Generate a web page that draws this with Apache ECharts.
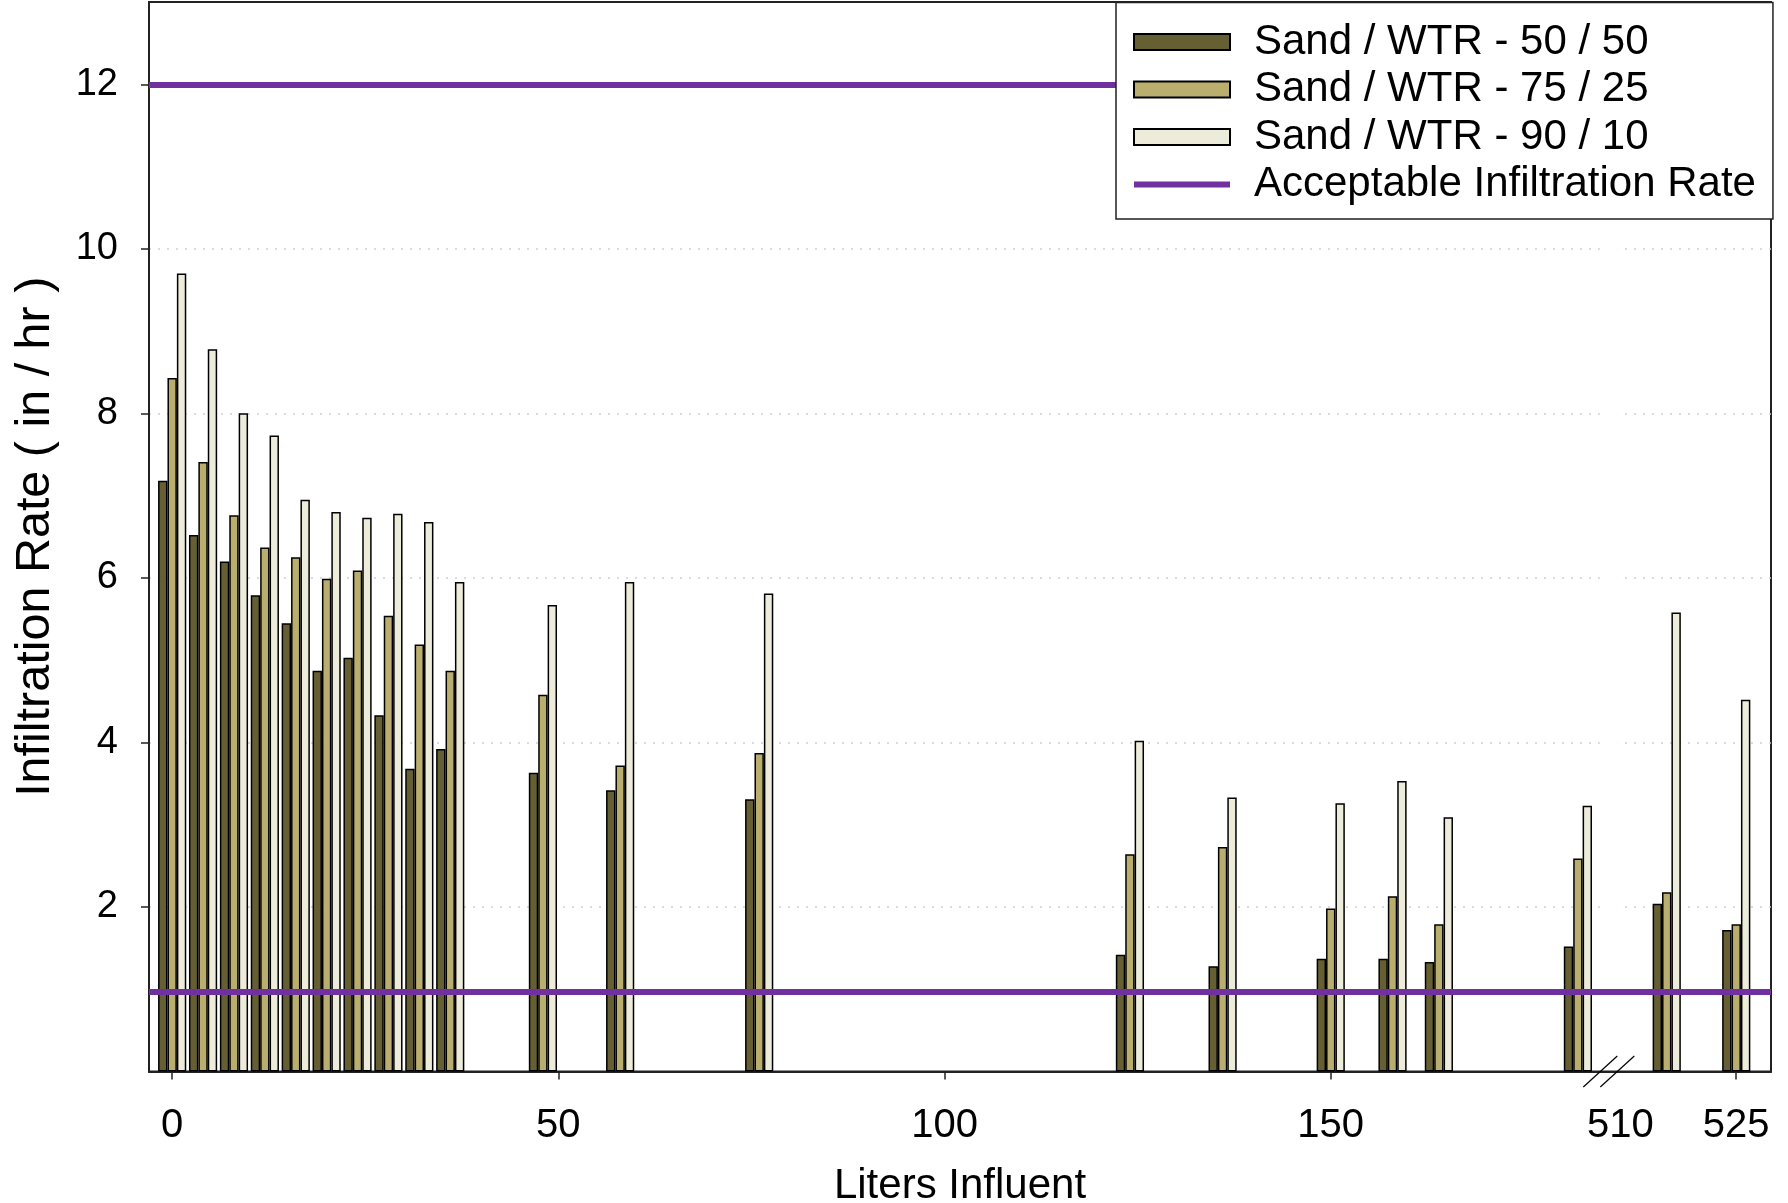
<!DOCTYPE html>
<html lang="en">
<head>
<meta charset="UTF-8">
<title>Infiltration Rate</title>
<script src="https://cdn.jsdelivr.net/npm/echarts@6/dist/echarts.min.js"></script>
<style>
    html, body { margin: 0; padding: 0; background: #fff; }
    #chart { width: 1788px; height: 1203px; }
</style>
</head>
<body>
<div id="chart"></div>
<script>
    // liters of influent at each reading
    var liters = [0, 4, 8, 12, 16, 20, 24, 28, 32, 36, 48, 58, 76, 124, 136, 150, 158, 164, 182, 516, 525];
    var mix5050 = [7.18, 6.52, 6.20, 5.79, 5.45, 4.87, 5.03, 4.33, 3.68, 3.92, 3.63, 3.42, 3.31, 1.42, 1.28, 1.37, 1.37, 1.33, 1.52, 2.04, 1.72];
    var mix7525 = [8.43, 7.41, 6.76, 6.37, 6.25, 5.99, 6.09, 5.54, 5.19, 4.87, 4.58, 3.72, 3.87, 2.64, 2.73, 1.98, 2.13, 1.79, 2.59, 2.18, 1.79];
    var mix9010 = [9.70, 8.78, 8.00, 7.73, 6.95, 6.80, 6.73, 6.78, 6.68, 5.95, 5.67, 5.95, 5.81, 4.02, 3.33, 3.26, 3.53, 3.09, 3.23, 5.58, 4.52];
    var acceptRate = [12, 0.97];
    var tickLiters = [0, 50, 100, 150, 525];
    var labelLiters = [0, 50, 100, 150, 510, 525];
    var yTicks = [2, 4, 6, 8, 10, 12];
    var names = ['Sand / WTR - 50 / 50', 'Sand / WTR - 75 / 25', 'Sand / WTR - 90 / 10', 'Acceptable Infiltration Rate'];
    var colors = ['#675f34', '#b9ae6e', '#edebda'];
    var purple = '#7030a0';
    var font = '"Liberation Sans", Arial, sans-serif';

    // the x axis is broken: everything past breakAt is shifted left by "skipped" liters
    var breakAt = 186;
    var skipped = 322.5;
    function axisPos(l) { return l > breakAt ? l - skipped : l; }
    function axisText(v) { return v > breakAt ? Math.round(v + skipped) : v; }

    function pairs(vals) {
        return liters.map(function (l, i) { return [axisPos(l), vals[i]]; });
    }

    var chart = echarts.init(document.getElementById('chart'));

    var barSeries = [mix5050, mix7525, mix9010].map(function (vals, i) {
        return {
            name: names[i],
            type: 'bar',
            data: pairs(vals),
            barWidth: 9.4,
            barGap: '0%',
            itemStyle: { color: colors[i], borderColor: '#000', borderWidth: 1.5 }
        };
    });

    var option = {
        animation: false,
        backgroundColor: '#fff',
        textStyle: { fontFamily: font },
        grid: {
            left: 149, right: 17, top: 2, bottom: 131.5,
            outerBoundsMode: 'none',
            show: true, borderColor: '#222', borderWidth: 2, backgroundColor: 'transparent'
        },
        legend: {
            orient: 'vertical',
            left: 1116, top: 2.5,
            z: 10,
            padding: [18.5, 17, 13.5, 17],
            backgroundColor: '#fff',
            borderColor: '#222',
            borderWidth: 1.5,
            itemWidth: 96,
            itemHeight: 16,
            itemGap: 5.5,
            textStyle: { fontSize: 42, lineHeight: 42, color: '#000', fontFamily: font, padding: [0, 0, 0, 19] },
            data: [
                { name: names[0], icon: 'rect' },
                { name: names[1], icon: 'rect' },
                { name: names[2], icon: 'rect' },
                { name: names[3], icon: 'path://M0,0L96,0L96,6L0,6Z' }
            ]
        },
        xAxis: {
            type: 'value',
            min: -3, max: 207,
            name: 'Liters Influent',
            nameLocation: 'middle',
            nameGap: 94,
            nameTextStyle: { fontSize: 42, color: '#000', fontFamily: font },
            axisLine: { show: true, onZero: false, lineStyle: { color: '#222', width: 2 } },
            axisTick: { show: true, length: 8, lineStyle: { color: '#222', width: 1.5 }, customValues: tickLiters.map(axisPos) },
            axisLabel: {
                fontSize: 40, color: '#000', margin: 34, fontFamily: font,
                customValues: labelLiters.map(axisPos),
                formatter: axisText
            },
            splitLine: { show: false }
        },
        yAxis: {
            type: 'value',
            min: 0, max: 13, interval: 2,
            name: 'Infiltration Rate ( in / hr )',
            nameLocation: 'middle',
            nameGap: 89,
            nameTextStyle: { fontSize: 48.5, color: '#000', fontFamily: font },
            axisLine: { show: true, onZero: false, lineStyle: { color: '#222', width: 2 } },
            axisTick: { show: true, length: 8, lineStyle: { color: '#222', width: 1.5 }, customValues: yTicks },
            axisLabel: { fontSize: 38, color: '#000', margin: 31, fontFamily: font, customValues: yTicks },
            splitLine: { show: true, lineStyle: { color: '#cfcfcf', width: 1.5, type: [2, 7] } }
        },
        series: barSeries.concat([{
            name: names[3],
            type: 'line',
            data: [],
            symbol: 'none',
            z: 3,
            lineStyle: { color: purple, width: 6 },
            itemStyle: { color: purple },
            markLine: {
                silent: true,
                symbol: ['none', 'none'],
                label: { show: false },
                lineStyle: { color: purple, width: 6, type: 'solid' },
                data: acceptRate.map(function (v) { return { yAxis: v }; })
            }
        }])
    };

    chart.setOption(option);

    // break marks on the x axis, placed through the axis scale
    var bx = chart.convertToPixel({ xAxisIndex: 0 }, breakAt);
    var by = chart.convertToPixel({ yAxisIndex: 0 }, 0);
    var topY = chart.convertToPixel({ yAxisIndex: 0 }, 13);
    chart.setOption({
        graphic: [
            {
                type: 'rect', z: 1, silent: true,
                shape: { x: bx - 9, y: topY + 3, width: 18, height: by - topY - 6 },
                style: { fill: '#fff' }
            },
            {
                type: 'line', z: 10, silent: true,
                shape: { x1: bx - 25.5, y1: by + 15.5, x2: bx + 8.5, y2: by - 15.5 },
                style: { stroke: '#000', lineWidth: 1.2 }
            },
            {
                type: 'line', z: 10, silent: true,
                shape: { x1: bx - 8.5, y1: by + 15.5, x2: bx + 25.5, y2: by - 15.5 },
                style: { stroke: '#000', lineWidth: 1.2 }
            }
        ]
    });
</script>
</body>
</html>
